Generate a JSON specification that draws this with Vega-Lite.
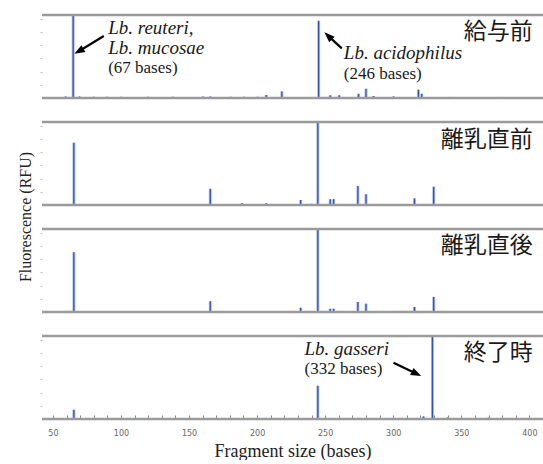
{
  "$schema": "https://vega.github.io/schema/vega-lite/v6.json",
  "padding": {"left": 17, "top": 13, "right": 0, "bottom": 0},
  "bounds": "flush",
  "data": {"values": [
    {"stage": "給与前", "kind": "name", "bp": 402.4, "rfu": 5030},
    {"stage": "離乳直前", "kind": "name", "bp": 402.4, "rfu": 4950},
    {"stage": "離乳直後", "kind": "name", "bp": 402.4, "rfu": 5030},
    {"stage": "終了時", "kind": "name", "bp": 402.4, "rfu": 5030},

    {"stage": "給与前", "kind": "species", "bp": 90.6, "rfu": 5330, "label": "Lb. reuteri,"},
    {"stage": "給与前", "kind": "species", "bp": 90.6, "rfu": 3830, "label": "Lb. mucosae"},
    {"stage": "給与前", "kind": "bases", "bp": 90.6, "rfu": 2240, "label": "(67 bases)"},
    {"stage": "給与前", "kind": "species", "bp": 263.7, "rfu": 3390, "label": "Lb. acidophilus"},
    {"stage": "給与前", "kind": "bases", "bp": 263.7, "rfu": 1850, "label": "(246 bases)"},
    {"stage": "終了時", "kind": "species", "bp": 234.8, "rfu": 5290, "label": "Lb. gasseri"},
    {"stage": "終了時", "kind": "bases", "bp": 234.8, "rfu": 3770, "label": "(332 bases)"},

    {"stage": "給与前", "kind": "arrow", "id": "reuteri", "bp": 87.4, "rfu": 4706, "bp2": 69.1, "rfu2": 3552},
    {"stage": "給与前", "kind": "arrow", "id": "acidophilus", "bp": 262.2, "rfu": 3765, "bp2": 252.2, "rfu2": 4714},
    {"stage": "終了時", "kind": "arrow", "id": "gasseri", "bp": 300.2, "rfu": 4273, "bp2": 317.1, "rfu2": 3431},

    {"stage": "給与前", "kind": "peak", "bp": 64.9, "rfu": 6300},
    {"stage": "給与前", "kind": "peak", "bp": 245.2, "rfu": 5860},
    {"stage": "給与前", "kind": "peak", "bp": 218.2, "rfu": 500},
    {"stage": "給与前", "kind": "peak", "bp": 274.5, "rfu": 320},
    {"stage": "給与前", "kind": "peak", "bp": 280.0, "rfu": 700},
    {"stage": "給与前", "kind": "peak", "bp": 318.5, "rfu": 630},
    {"stage": "給与前", "kind": "peak", "bp": 320.9, "rfu": 320},
    {"stage": "給与前", "kind": "peak", "bp": 285.5, "rfu": 150},
    {"stage": "給与前", "kind": "peak", "bp": 253.7, "rfu": 200},
    {"stage": "給与前", "kind": "peak", "bp": 260.3, "rfu": 200},
    {"stage": "給与前", "kind": "peak", "bp": 300.2, "rfu": 120},
    {"stage": "給与前", "kind": "peak", "bp": 206.7, "rfu": 230},
    {"stage": "給与前", "kind": "peak", "bp": 59.3, "rfu": 110},
    {"stage": "給与前", "kind": "peak", "bp": 69.5, "rfu": 110},
    {"stage": "給与前", "kind": "peak", "bp": 80.0, "rfu": 90},
    {"stage": "給与前", "kind": "peak", "bp": 89.8, "rfu": 90},
    {"stage": "給与前", "kind": "peak", "bp": 100.1, "rfu": 90},
    {"stage": "給与前", "kind": "peak", "bp": 119.9, "rfu": 90},
    {"stage": "給与前", "kind": "peak", "bp": 138.0, "rfu": 90},
    {"stage": "給与前", "kind": "peak", "bp": 160.3, "rfu": 110},
    {"stage": "給与前", "kind": "peak", "bp": 165.6, "rfu": 110},
    {"stage": "給与前", "kind": "peak", "bp": 180.6, "rfu": 90},
    {"stage": "給与前", "kind": "peak", "bp": 190.6, "rfu": 90},
    {"stage": "給与前", "kind": "peak", "bp": 200.4, "rfu": 90},
    {"stage": "給与前", "kind": "peak", "bp": 340.5, "rfu": 80},
    {"stage": "給与前", "kind": "peak", "bp": 360.0, "rfu": 80},
    {"stage": "給与前", "kind": "peak", "bp": 379.6, "rfu": 80},
    {"stage": "給与前", "kind": "peak", "bp": 400.4, "rfu": 80},

    {"stage": "離乳直前", "kind": "peak", "bp": 65.4, "rfu": 4725},
    {"stage": "離乳直前", "kind": "peak", "bp": 165.6, "rfu": 1230},
    {"stage": "離乳直前", "kind": "peak", "bp": 188.9, "rfu": 130},
    {"stage": "離乳直前", "kind": "peak", "bp": 206.7, "rfu": 130},
    {"stage": "離乳直前", "kind": "peak", "bp": 232.0, "rfu": 380},
    {"stage": "離乳直前", "kind": "peak", "bp": 240.0, "rfu": 90},
    {"stage": "離乳直前", "kind": "peak", "bp": 244.6, "rfu": 6300},
    {"stage": "離乳直前", "kind": "peak", "bp": 253.7, "rfu": 440},
    {"stage": "離乳直前", "kind": "peak", "bp": 256.2, "rfu": 440},
    {"stage": "離乳直前", "kind": "peak", "bp": 274.0, "rfu": 1450},
    {"stage": "離乳直前", "kind": "peak", "bp": 280.0, "rfu": 820},
    {"stage": "離乳直前", "kind": "peak", "bp": 290.4, "rfu": 80},
    {"stage": "離乳直前", "kind": "peak", "bp": 297.7, "rfu": 80},
    {"stage": "離乳直前", "kind": "peak", "bp": 315.6, "rfu": 500},
    {"stage": "離乳直前", "kind": "peak", "bp": 321.4, "rfu": 80},
    {"stage": "離乳直前", "kind": "peak", "bp": 329.7, "rfu": 1390},
    {"stage": "離乳直前", "kind": "peak", "bp": 360.0, "rfu": 50},
    {"stage": "離乳直前", "kind": "peak", "bp": 400.4, "rfu": 50},

    {"stage": "離乳直後", "kind": "peak", "bp": 65.4, "rfu": 4540},
    {"stage": "離乳直後", "kind": "peak", "bp": 165.6, "rfu": 820},
    {"stage": "離乳直後", "kind": "peak", "bp": 232.0, "rfu": 315},
    {"stage": "離乳直後", "kind": "peak", "bp": 244.6, "rfu": 6300},
    {"stage": "離乳直後", "kind": "peak", "bp": 253.7, "rfu": 250},
    {"stage": "離乳直後", "kind": "peak", "bp": 256.2, "rfu": 250},
    {"stage": "離乳直後", "kind": "peak", "bp": 274.0, "rfu": 760},
    {"stage": "離乳直後", "kind": "peak", "bp": 280.0, "rfu": 630},
    {"stage": "離乳直後", "kind": "peak", "bp": 315.6, "rfu": 380},
    {"stage": "離乳直後", "kind": "peak", "bp": 329.7, "rfu": 1130},
    {"stage": "離乳直後", "kind": "peak", "bp": 59.3, "rfu": 80},
    {"stage": "離乳直後", "kind": "peak", "bp": 62.9, "rfu": 80},
    {"stage": "離乳直後", "kind": "peak", "bp": 70.2, "rfu": 80},
    {"stage": "離乳直後", "kind": "peak", "bp": 80.5, "rfu": 80},
    {"stage": "離乳直後", "kind": "peak", "bp": 89.8, "rfu": 80},
    {"stage": "離乳直後", "kind": "peak", "bp": 100.3, "rfu": 80},
    {"stage": "離乳直後", "kind": "peak", "bp": 119.7, "rfu": 80},
    {"stage": "離乳直後", "kind": "peak", "bp": 138.8, "rfu": 80},
    {"stage": "離乳直後", "kind": "peak", "bp": 160.8, "rfu": 80},
    {"stage": "離乳直後", "kind": "peak", "bp": 181.2, "rfu": 80},
    {"stage": "離乳直後", "kind": "peak", "bp": 188.9, "rfu": 80},
    {"stage": "離乳直後", "kind": "peak", "bp": 201.1, "rfu": 80},
    {"stage": "離乳直後", "kind": "peak", "bp": 206.7, "rfu": 80},
    {"stage": "離乳直後", "kind": "peak", "bp": 220.6, "rfu": 80},
    {"stage": "離乳直後", "kind": "peak", "bp": 240.2, "rfu": 80},
    {"stage": "離乳直後", "kind": "peak", "bp": 290.4, "rfu": 80},
    {"stage": "離乳直後", "kind": "peak", "bp": 297.7, "rfu": 80},
    {"stage": "離乳直後", "kind": "peak", "bp": 300.2, "rfu": 80},
    {"stage": "離乳直後", "kind": "peak", "bp": 340.5, "rfu": 80},
    {"stage": "離乳直後", "kind": "peak", "bp": 360.0, "rfu": 80},
    {"stage": "離乳直後", "kind": "peak", "bp": 379.6, "rfu": 80},
    {"stage": "離乳直後", "kind": "peak", "bp": 400.4, "rfu": 80},

    {"stage": "終了時", "kind": "peak", "bp": 65.4, "rfu": 700},
    {"stage": "終了時", "kind": "peak", "bp": 244.6, "rfu": 2520},
    {"stage": "終了時", "kind": "peak", "bp": 328.8, "rfu": 6300},
    {"stage": "終了時", "kind": "peak", "bp": 322.2, "rfu": 190},
    {"stage": "終了時", "kind": "peak", "bp": 340.0, "rfu": 120},
    {"stage": "終了時", "kind": "peak", "bp": 370.0, "rfu": 100},
    {"stage": "終了時", "kind": "peak", "bp": 270.0, "rfu": 80}
  ]},
  "facet": {
    "row": {
      "field": "stage",
      "type": "nominal",
      "sort": ["給与前", "離乳直前", "離乳直後", "終了時"],
      "title": "Fluorescence (RFU)",
      "header": {
        "labels": false,
        "labelPadding": 0,
        "titleFont": "Liberation Serif",
        "titleFontSize": 16,
        "titleFontWeight": "normal",
        "titleColor": "#222",
        "titlePadding": -5
      }
    }
  },
  "spacing": 24,
  "spec": {
    "width": 501,
    "height": 83,
    "encoding": {
      "x": {
        "field": "bp",
        "type": "quantitative",
        "scale": {"domain": [42, 410], "nice": false, "zero": false},
        "axis": {
          "values": [50, 60, 70, 80, 90, 100, 110, 120, 130, 140, 150, 160, 170, 180, 190, 200, 210, 220, 230, 240, 250, 260, 270, 280, 290, 300, 310, 320, 330, 340, 350, 360, 370, 380, 390, 400],
          "labelExpr": "datum.value % 50 === 0 ? datum.label : ''",
          "title": "Fragment size (bases)",
          "titleFont": "Liberation Serif",
          "titleFontSize": 18,
          "titleFontWeight": "normal",
          "titleColor": "#222",
          "titlePadding": 5,
          "labelFont": "DejaVu Sans",
          "labelFontSize": 8,
          "labelColor": "#666",
          "labelPadding": 14,
          "tickSize": -4,
          "tickColor": "#888",
          "domain": false,
          "grid": false
        }
      },
      "y": {
        "field": "rfu",
        "type": "quantitative",
        "scale": {"domain": [0, 6300], "nice": false},
        "axis": {
          "values": [1000, 2000, 3000, 4000, 5000, 6000],
          "labels": false,
          "domain": false,
          "grid": false,
          "tickSize": 2,
          "tickColor": "#bbb",
          "title": null
        }
      }
    },
    "layer": [
      {
        "transform": [{"filter": "datum.kind === 'peak'"}],
        "mark": {"type": "rule", "color": "#aebde8", "strokeWidth": 3},
        "encoding": {"y2": {"datum": 0}}
      },
      {
        "transform": [{"filter": "datum.kind === 'peak'"}],
        "mark": {"type": "rule", "color": "#3552b8", "strokeWidth": 1.3},
        "encoding": {"y2": {"datum": 0}}
      },
      {
        "transform": [{"filter": "datum.kind === 'name'"}],
        "mark": {"type": "rule", "color": "#9a9a9a", "strokeWidth": 2.5},
        "encoding": {"x": {"value": 0}, "x2": {"value": 501}, "y": {"datum": 6300}}
      },
      {
        "transform": [{"filter": "datum.kind === 'name'"}],
        "mark": {"type": "rule", "color": "#9a9a9a", "strokeWidth": 2.5},
        "encoding": {"x": {"value": 0}, "x2": {"value": 501}, "y": {"datum": 0}}
      },
      {
        "transform": [{"filter": "datum.kind === 'name'"}],
        "mark": {"type": "text", "align": "right", "baseline": "middle", "font": "Noto Sans CJK JP", "fontSize": 23, "color": "#1a1a1a"},
        "encoding": {"text": {"field": "stage"}}
      },
      {
        "transform": [{"filter": "datum.kind === 'species'"}],
        "mark": {"type": "text", "align": "left", "baseline": "middle", "font": "Liberation Serif", "fontStyle": "italic", "fontSize": 19, "color": "#1a1a1a"},
        "encoding": {"text": {"field": "label"}}
      },
      {
        "transform": [{"filter": "datum.kind === 'bases'"}],
        "mark": {"type": "text", "align": "left", "baseline": "middle", "font": "Liberation Serif", "fontSize": 17, "color": "#1a1a1a"},
        "encoding": {"text": {"field": "label"}}
      },
      {
        "transform": [{"filter": "datum.kind === 'arrow'"}],
        "mark": {"type": "rule", "color": "#000", "strokeWidth": 2.2},
        "encoding": {"x2": {"field": "bp2"}, "y2": {"field": "rfu2"}}
      },
      {
        "transform": [{"filter": "datum.id === 'reuteri'"}],
        "mark": {"type": "point", "shape": "M0,-1L0.75,1L-0.75,1Z", "filled": true, "color": "#000", "opacity": 1, "size": 110, "angle": 240},
        "encoding": {"x": {"field": "bp2", "type": "quantitative"}, "y": {"field": "rfu2", "type": "quantitative"}}
      },
      {
        "transform": [{"filter": "datum.id === 'acidophilus'"}],
        "mark": {"type": "point", "shape": "M0,-1L0.75,1L-0.75,1Z", "filled": true, "color": "#000", "opacity": 1, "size": 110, "angle": 314},
        "encoding": {"x": {"field": "bp2", "type": "quantitative"}, "y": {"field": "rfu2", "type": "quantitative"}}
      },
      {
        "transform": [{"filter": "datum.id === 'gasseri'"}],
        "mark": {"type": "point", "shape": "M0,-1L0.75,1L-0.75,1Z", "filled": true, "color": "#000", "opacity": 1, "size": 110, "angle": 116},
        "encoding": {"x": {"field": "bp2", "type": "quantitative"}, "y": {"field": "rfu2", "type": "quantitative"}}
      }
    ]
  },
  "config": {
    "view": {"stroke": null},
    "background": "white"
  }
}
